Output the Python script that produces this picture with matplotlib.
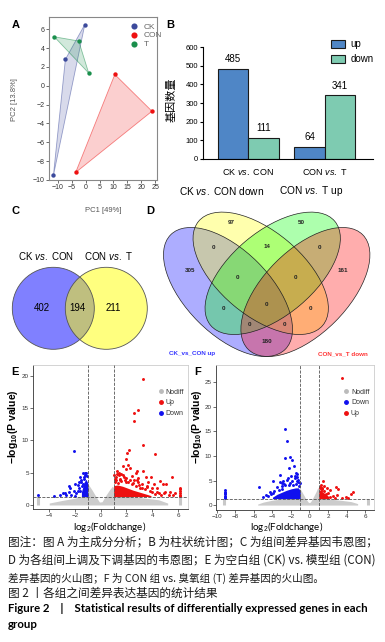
import numpy as np
import matplotlib
matplotlib.use('Agg')
import matplotlib.pyplot as plt
from matplotlib.patches import Ellipse, Circle, Polygon
from matplotlib.lines import Line2D
from matplotlib.colors import to_rgba

plt.rcParams['font.family'] = ['Liberation Sans', 'Noto Sans CJK SC', 'DejaVu Sans']
plt.rcParams['mathtext.fontset'] = 'custom'
plt.rcParams['mathtext.rm'] = 'Liberation Sans'
plt.rcParams['mathtext.it'] = 'Liberation Sans:italic'
plt.rcParams['mathtext.bf'] = 'Liberation Sans:bold'

# ---- data ----
# A: PCA scores
ck_pc1 = [-0.3, -7.3, -11.6]
ck_pc2 = [6.5, 2.8, -9.5]
con_pc1 = [10.5, 23.9, -3.6]
con_pc2 = [1.2, -2.7, -9.2]
t_pc1 = [-11.3, -2.5, 1.1]
t_pc2 = [5.2, 4.75, 1.35]

# B: number of DEGs
comparisons = ['CK $\\it{vs.}$ CON', 'CON $\\it{vs.}$ T']
up_counts = [485, 64]
down_counts = [111, 341]

# C: two-set venn
venn2_names = ['CK $\\it{vs.}$ CON', 'CON $\\it{vs.}$ T']
venn2_counts = [402, 194, 211]

# D: four-set venn (region counts)
venn4_counts = [305, 97, 50, 161, 0, 14, 0, 0, 0, 0, 0, 0, 0, 0, 180]

# E: CK vs CON volcano
e_grey_x = [-4.0, -3.0, -2.0, -1.5, -1.2, -1.0, -0.7, -0.4, -0.1, 0.1, 0.4, 0.7, 0.9, 1.05, 1.5, 2.5, 3.5, 4.5, 5.2]
e_grey_top = [0.3, 0.7, 1.05, 1.35, 2.3, 3.3, 2.4, 1.4, 0.45, 0.5, 1.5, 2.4, 2.9, 2.6, 1.4, 1.25, 1.05, 0.8, 0.3]
e_strip_x = [-4.85, 6.19]
e_strip_top = [1.35, 1.3]
e_up_core_x = [1.0, 1.3, 1.7, 2.1, 2.5, 3.0, 3.5, 3.9]
e_up_core_top = [3.0, 3.1, 2.9, 2.6, 2.3, 2.0, 1.7, 1.45]
e_down_core_x = [-1.5, -1.3, -1.15, -1.0]
e_down_core_top = [2.0, 3.5, 4.0, 3.4]
e_up_x = [3.31, 2.92, 2.61, 2.59, 3.26, 4.22, 2.22, 2.02, 1.94, 2.1, 1.7, 2.3, 2.85, 3.31, 3.5, 5.5, 4.8, 5.1,
          4.35, 5.4, 1.4, 1.8, 2.4, 2.9, 3.9, 4.6, 4.1, 3.6, 1.2, 1.5, 2.0, 2.5, 3.0, 5.3, 4.5, 1.1, 1.3,
          6.19, 6.19, 6.19, 6.19, 6.19, 6.19, 4.0, 3.2, 2.7, 1.6, 4.9,
          1.1, 1.2, 1.35, 1.5, 1.6, 1.75, 1.85, 2.0, 2.15, 2.3, 2.45, 2.6, 2.75, 2.9, 3.05, 3.2, 3.4,
          3.6, 3.8, 4.0, 4.2, 4.4, 4.7, 5.0, 5.6, 5.8, 1.25, 1.45, 1.05, 1.95, 2.8, 3.7]
e_up_y = [19.6, 14.7, 14.2, 13.0, 9.3, 7.85, 8.6, 8.0, 7.2, 6.2, 6.0, 5.8, 5.3, 5.3, 4.4, 4.4, 3.25, 3.25,
          2.06, 2.06, 4.6, 4.4, 4.5, 4.2, 4.3, 3.7, 3.2, 3.0, 3.8, 3.9, 3.6, 3.4, 3.1, 1.6, 1.8, 4.1, 5.2,
          1.35, 1.6, 1.9, 2.1, 2.4, 2.6, 2.7, 2.6, 4.9, 4.8, 1.9,
          3.6, 4.3, 3.4, 4.1, 3.7, 4.6, 3.9, 4.2, 3.5, 3.9, 3.2, 3.8, 3.0, 3.5, 2.7, 3.3, 2.5,
          2.8, 2.2, 2.0, 1.7, 2.6, 1.5, 2.0, 1.5, 1.8, 4.8, 5.0, 4.7, 5.5, 3.9, 3.5]
e_down_x = [-2.07, -1.4, -1.6, -1.55, -1.1, -1.2, -1.3, -1.45, -1.35, -1.5, -1.6, -1.7, -1.8, -1.9, -2.0,
            -2.1, -2.44, -2.77, -3.2, -1.77, -2.3, -2.5, -2.7, -2.9, -3.6, -2.0, -1.7, -2.4, -4.85, -1.1,
            -1.25, -1.05, -1.15, -1.3, -1.2]
e_down_y = [8.4, 4.9, 4.4, 3.9, 4.5, 4.7, 4.4, 2.9, 3.3, 3.6, 2.2, 2.6, 3.1, 1.8, 1.4,
            2.2, 2.94, 1.9, 1.55, 2.2, 1.6, 2.0, 1.5, 1.9, 1.45, 3.3, 3.5, 2.6, 1.55, 1.6,
            1.9, 2.5, 4.9, 4.1, 5.0]

# F: CON vs T volcano
f_grey_x = [-5.6, -5.0, -4.0, -3.0, -2.0, -1.5, -1.15, -1.0, -0.7, -0.4, -0.1, 0.1, 0.4, 0.7, 0.9, 1.05, 1.5, 2.5, 3.5, 4.5, 5.2]
f_grey_top = [0.2, 0.6, 1.0, 1.25, 1.4, 1.8, 2.6, 3.3, 2.3, 1.3, 0.5, 0.6, 1.6, 2.7, 3.6, 3.0, 1.35, 1.15, 0.95, 0.7, 0.3]
f_strip_x = [-9.2, 6.3]
f_strip_top = [1.3, 1.3]
f_down_core_x = [-4.0, -3.5, -3.0, -2.5, -2.0, -1.5, -1.2, -1.0]
f_down_core_top = [1.6, 2.2, 2.6, 3.0, 3.3, 3.5, 3.5, 2.9]
f_up_core_x = [1.0, 1.3, 1.7, 2.1]
f_up_core_top = [3.0, 2.8, 2.3, 1.7]
f_down_x = [-2.7, -2.44, -2.7, -2.08, -1.9, -2.26, -1.7, -1.5, -1.3, -2.0, -1.6, -2.4, -1.9, -1.2, -3.2, -3.96,
            -5.43, -2.8, -3.5, -2.2, -1.5, -4.3, -4.7, -5.0, -3.9, -3.0, -1.1, -3.16, -2.98,
            -9.17, -9.17, -9.17, -9.17, -9.17, -9.17, -9.17,
            -1.2, -1.4, -1.8, -2.1, -2.6, -3.0, -3.3, -1.6, -2.3, -1.3, -2.9, -1.05, -3.8, -4.2, -4.5]
f_down_y = [15.4, 13.0, 9.5, 9.85, 9.2, 7.5, 8.0, 6.5, 6.4, 6.0, 5.5, 5.1, 4.8, 4.6, 4.6, 4.95,
            3.6, 4.2, 3.6, 4.0, 4.3, 2.6, 2.0, 1.6, 2.4, 3.2, 3.9, 6.1, 4.4,
            1.5, 1.7, 1.9, 2.3, 2.5, 2.7, 3.1,
            5.2, 4.8, 4.0, 4.5, 4.0, 3.9, 3.0, 6.0, 5.5, 5.8, 5.0, 4.4, 2.9, 2.2, 1.8]
f_up_x = [3.5, 1.5, 1.2, 1.6, 2.85, 3.1, 1.9, 1.4, 2.2, 4.75, 4.5, 3.0, 2.5, 3.9, 4.2, 2.2, 2.8, 1.1, 1.8, 3.5,
          1.1, 1.3, 1.6, 2.0, 1.2]
f_up_y = [25.8, 5.0, 4.0, 3.9, 3.6, 3.3, 3.5, 3.2, 3.0, 2.6, 2.3, 2.0, 1.9, 1.6, 1.5, 1.6, 1.45, 3.4, 2.2, 1.5,
          3.7, 3.5, 2.9, 2.5, 2.8]

W, H = 385, 642
fig = plt.figure(figsize=(W / 100, H / 100), dpi=100)


def box(x0, y0, x1, y1):
    return [x0 / W, 1 - y1 / H, (x1 - x0) / W, (y1 - y0) / H]


bg = fig.add_axes([0, 0, 1, 1])
bg.set_xlim(0, W)
bg.set_ylim(H, 0)
bg.axis('off')

cjk = ['Noto Sans CJK SC', 'DejaVu Sans']
for lab, x, y in [('A', 16, 25), ('B', 170, 25), ('C', 15, 211), ('D', 150, 211), ('E', 15, 372), ('F', 198, 372)]:
    bg.text(x, y, lab, fontsize=8, fontweight='bold', ha='center', va='center')

# ---- A: PCA ----
axA = fig.add_axes(box(49, 17, 157, 180))
pca_sets = [('CK', ck_pc1, ck_pc2, '#3c4a9c'), ('CON', con_pc1, con_pc2, '#ee1111'), ('T', t_pc1, t_pc2, '#1a8f4c')]
for name, xs, ys, c in pca_sets:
    axA.add_patch(Polygon(np.column_stack([xs, ys]), closed=True, fc=to_rgba(c, 0.2), ec=to_rgba(c, 0.5), lw=0.6))
    axA.scatter(xs, ys, s=10, color=c, zorder=3, label=name, linewidths=0)
axA.set_xlim(-13.2, 25.7)
axA.set_ylim(-10, 7.3)
axA.set_xticks(range(-10, 30, 5))
axA.set_yticks(range(-10, 7, 2))
axA.tick_params(labelsize=5, length=2, width=0.5, pad=1, colors='#333')
for s in axA.spines.values():
    s.set_color('#888')
    s.set_linewidth(0.8)
axA.legend(loc='upper left', bbox_to_anchor=(0.66, 1.0), frameon=False, fontsize=6, handletextpad=0.1,
           labelspacing=0.1, markerscale=1.4, borderaxespad=0.3, labelcolor='#666')
bg.text(15, 100, 'PC2 [13.8%]', rotation=90, fontsize=5.5, color='#555', ha='center', va='center')
bg.text(103, 211, 'PC1 [49%]', fontsize=5.5, color='#555', ha='center', va='center')

# ---- B: bars ----
axB = fig.add_axes(box(203, 47.3, 373, 158.7))
xpos = np.arange(len(comparisons))
bw = 0.4
axB.bar(xpos - bw / 2, up_counts, bw, color='#4f86c6', edgecolor='#1a1a1a', lw=0.8, label='up')
axB.bar(xpos + bw / 2, down_counts, bw, color='#7ecbb1', edgecolor='#1a1a1a', lw=0.8, label='down')
for i in range(len(comparisons)):
    axB.text(xpos[i] - bw / 2, up_counts[i] + 52, str(up_counts[i]), ha='center', va='center', fontsize=7)
    axB.text(xpos[i] + bw / 2, down_counts[i] + 52, str(down_counts[i]), ha='center', va='center', fontsize=7)
axB.set_xlim(-0.59, 1.63)
axB.set_ylim(0, 600)
axB.set_yticks(range(0, 700, 100))
axB.set_xticks(xpos)
axB.set_xticklabels(comparisons, fontsize=6.5)
axB.tick_params(axis='y', labelsize=5.5, length=2.5, width=0.8, pad=1)
axB.tick_params(axis='x', length=0, pad=6)
axB.spines['top'].set_visible(False)
axB.spines['right'].set_visible(False)
axB.legend(loc='upper left', bbox_to_anchor=(0.70, 1.15), frameon=False, fontsize=7, handlelength=1.5,
           handleheight=0.9, labelspacing=0.5, handletextpad=0.5)
bg.text(172, 100, '基因数量', rotation=90, fontsize=8, family=cjk, ha='center', va='center')

# ---- C: two-set venn ----
bg.add_patch(Circle((53.3, 308.3), 41, fc=(0.5, 0.5, 1.0), ec='none'))
bg.add_patch(Circle((106.3, 308.3), 41, fc=(1, 1, 0, 0.5), ec='none'))
bg.add_patch(Circle((53.3, 308.3), 41, fill=False, ec='#555', lw=0.6))
bg.add_patch(Circle((106.3, 308.3), 41, fill=False, ec='#555', lw=0.6))
bg.text(46, 256, venn2_names[0], fontsize=7, ha='center', va='center')
bg.text(108, 256, venn2_names[1], fontsize=7, ha='center', va='center')
for cnt, x in zip(venn2_counts, [42, 77, 113]):
    bg.text(x, 308, str(cnt), fontsize=7, ha='center', va='center')

# ---- D: four-set venn ----
ell = [((228, 292), 45, 'blue'), ((260.7, 273.3), 40, 'yellow'), ((272.7, 273.3), -40, 'lime'), ((305.4, 292), -45, 'red')]
for (cx, cy), ang, c in ell:
    bg.add_patch(Ellipse((cx, cy), 162, 84, angle=ang, fc=to_rgba(c, 0.32), ec='none'))
for (cx, cy), ang, c in ell:
    bg.add_patch(Ellipse((cx, cy), 162, 84, angle=ang, fill=False, ec='#222', lw=0.5))
region_pos = [(190, 271), (231.7, 222.3), (301.7, 222.3), (342.7, 271), (214, 247.7), (266.7, 246.7),
              (319.3, 247.7), (237.7, 277.7), (295, 277.7), (223.3, 309), (266.7, 304), (310.7, 309),
              (249.3, 325), (284.3, 325), (266.7, 341.7)]
for cnt, (x, y) in zip(venn4_counts, region_pos):
    bg.text(x, y, str(cnt), fontsize=4.5, ha='center', va='center', fontweight='bold', color='#222')
bg.text(222, 191, 'CK $\\it{vs.}$ CON down', fontsize=7.3, ha='center', va='center')
bg.text(311, 191, 'CON $\\it{vs.}$ T up', fontsize=7.3, ha='center', va='center')
bg.text(192, 354, 'CK_vs_CON up', fontsize=4.5, color='#3333ff', ha='center', va='center', fontweight='bold')
bg.text(343, 354, 'CON_vs_T down', fontsize=4.5, color='#ff3333', ha='center', va='center', fontweight='bold')


# ---- E, F: volcano ----
def volcano(ax, gx, gtop, sx, stop, dcx, dct, ucx, uct, dx, dy, ux, uy, order):
    ax.fill_between(gx, 0, gtop, color='#cccccc', lw=0, zorder=1)
    ax.vlines(sx, 0, stop, color='#c8c8c8', lw=2.2, zorder=1)
    ax.fill_between(dcx, 1.3, dct, color='#1010ee', lw=0, zorder=3)
    ax.fill_between(ucx, 1.3, uct, color='#ee1010', lw=0, zorder=3)
    ax.scatter(dx, dy, s=4.5, color='#1010ee', lw=0, zorder=3)
    ax.scatter(ux, uy, s=4.5, color='#ee1010', lw=0, zorder=3)
    ax.axvline(-1, ls='--', color='#555', lw=0.6, zorder=4)
    ax.axvline(1, ls='--', color='#555', lw=0.6, zorder=4)
    ax.axhline(1.3, ls='--', color='#555', lw=0.6, zorder=4)
    for s in ['top', 'right']:
        ax.spines[s].set_color('#cccccc')
    for s in ['left', 'bottom']:
        ax.spines[s].set_color('#333')
    for s in ax.spines.values():
        s.set_linewidth(0.6)
    ax.tick_params(labelsize=4.5, length=2, width=0.5, pad=1, colors='#333')
    cols = {'Nodiff': '#bbbbbb', 'Up': '#ee1010', 'Down': '#1010ee'}
    hs = [Line2D([], [], ls='none', marker='o', ms=2.5, color=cols[k], label=k) for k in order]
    ax.legend(handles=hs, loc='upper left', bbox_to_anchor=(0.76, 0.88), frameon=False, fontsize=5,
              handletextpad=0.2, labelspacing=0.55, handlelength=1, labelcolor='#333')


axE = fig.add_axes(box(33, 365, 188.3, 509.3))
volcano(axE, e_grey_x, e_grey_top, e_strip_x, e_strip_top, e_down_core_x, e_down_core_top,
        e_up_core_x, e_up_core_top, e_down_x, e_down_y, e_up_x, e_up_y, ['Nodiff', 'Up', 'Down'])
axE.set_xlim(-5.26, 6.8)
axE.set_ylim(-0.67, 21.7)
axE.set_xticks(range(-4, 7, 2))
axE.set_yticks(range(0, 21, 5))

axF = fig.add_axes(box(216, 365, 374.3, 509.5))
volcano(axF, f_grey_x, f_grey_top, f_strip_x, f_strip_top, f_down_core_x, f_down_core_top,
        f_up_core_x, f_up_core_top, f_down_x, f_down_y, f_up_x, f_up_y, ['Nodiff', 'Down', 'Up'])
axF.set_xlim(-10.1, 7.0)
axF.set_ylim(-0.9, 28.5)
axF.set_xticks(range(-10, 7, 2))
axF.set_yticks(range(0, 26, 5))

for x in [13, 197]:
    bg.text(x, 427, '$\\mathbf{-log_{10}(P\\ value)}$', rotation=90, fontsize=7.5, ha='center', va='center')
for x in [110, 287]:
    bg.text(x, 527, 'log$_2$(Foldchange)', fontsize=7, ha='center', va='center', family=['Lato', 'DejaVu Sans'])

# ---- caption ----
cap = [('图注：图 A 为主成分分析；B 为柱状统计图；C 为组间差异基因韦恩图；', 541.5, 8.4),
       ('D 为各组间上调及下调基因的韦恩图；E 为空白组 (CK) vs. 模型组 (CON)', 560, 8.35),
       ('差异基因的火山图；F 为 CON 组 vs. 臭氧组 (T) 差异基因的火山图。', 578, 7.65),
       ('图 2 丨各组之间差异表达基因的统计结果', 593, 8.4)]
for t, y, fs in cap:
    bg.text(8, y, t, fontsize=fs, family=cjk, ha='left', va='center', color='#1a1a1a')
bg.text(8, 608.5, 'Figure 2    |    Statistical results of differentially expressed genes in each',
        fontsize=8.2, fontweight='bold', family=['Lato', 'DejaVu Sans'], ha='left', va='center')
bg.text(8, 625, 'group', fontsize=8.2, fontweight='bold', family=['Lato', 'DejaVu Sans'], ha='left', va='center')

fig.savefig('out.png', dpi=100)
